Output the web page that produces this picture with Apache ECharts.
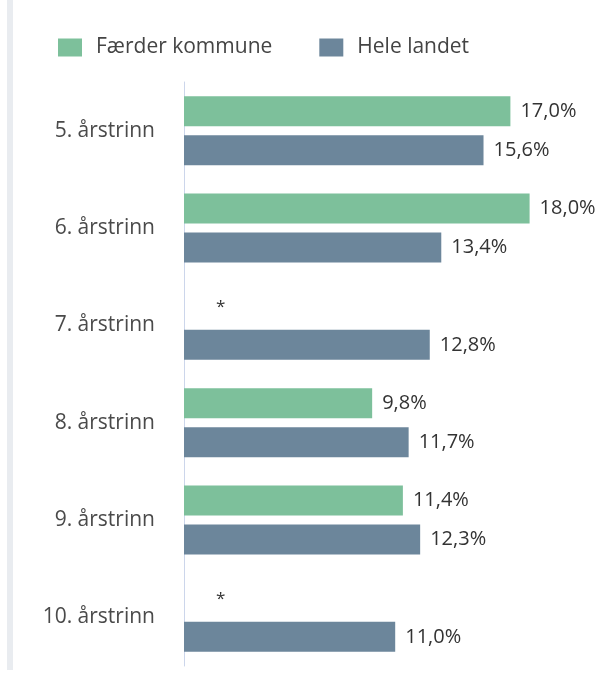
<!DOCTYPE html>
<html>
<head>
<meta charset="utf-8">
<script src="https://cdn.jsdelivr.net/npm/echarts@6/dist/echarts.min.js"></script>
<style>html,body{margin:0;padding:0;background:#fff;}#c{width:603px;height:675px;}</style>
</head>
<body>
<div id="c"></div>
<script>
const categories = ['5. årstrinn','6. årstrinn','7. årstrinn','8. årstrinn','9. årstrinn','10. årstrinn'];
const faerder = [17.0, 18.0, null, 9.8, 11.4, null];
const heleLandet = [15.6, 13.4, 12.8, 11.7, 12.3, 11.0];
const seriesNames = ['Færder kommune','Hele landet'];

const fmt = v => v.toFixed(1).replace('.', ',') + '%';
const chart = echarts.init(document.getElementById('c'));
const faerderData = faerder.map(v => v === null
  ? {value: 0, label: {show: true, formatter: '*', fontSize: 17, offset: [22, 1]}}
  : v);
chart.setOption({
  animation: false,
  textStyle: {fontFamily: 'Open Sans'},
  graphic: [{type:'rect', left: 7, top: 0, shape:{width: 6, height: 670}, style:{fill:'#e9ecf0'}}],
  legend: {
    left: 58, top: 37, padding: 0, itemWidth: 24, itemHeight: 18, itemGap: 47,
    icon: 'rect',
    textStyle: {fontSize: 21, color: '#444', fontFamily: 'Open Sans', padding: [0,0,0,9]},
    data: seriesNames
  },
  grid: {left: 184, top: 82, width: 384, height: 584, containLabel: false},
  xAxis: {type: 'value', min: 0, max: 20, show: false},
  yAxis: {
    type: 'category', inverse: true, data: categories,
    axisLine: {show: true, lineStyle: {color: '#ccd6eb', width: 1}},
    axisTick: {show: false},
    axisLabel: {fontSize: 21, color: '#4a4a4a', margin: 29, fontFamily: 'Open Sans'}
  },
  series: [
    {name: seriesNames[0], type: 'bar', data: faerderData, barWidth: 30, barGap: '30%',
     itemStyle: {color: '#7dc09b'},
     label: {show: true, position: 'right', distance: 10, fontSize: 20, color: '#333', fontFamily: 'Open Sans',
             formatter: p => fmt(p.value)}},
    {name: seriesNames[1], type: 'bar', data: heleLandet, barWidth: 30, barGap: '30%',
     itemStyle: {color: '#6c869b'},
     label: {show: true, position: 'right', distance: 10, fontSize: 20, color: '#333', fontFamily: 'Open Sans',
             formatter: p => fmt(p.value)}}
  ]
});
</script>
</body>
</html>
